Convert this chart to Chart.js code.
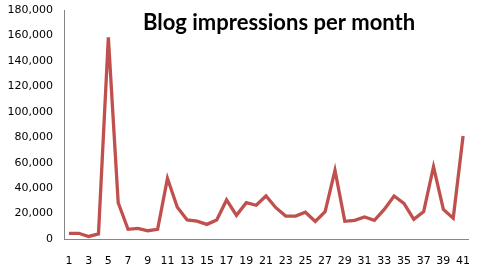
<!DOCTYPE html>
<html><head><meta charset="utf-8">
<script src="https://cdn.jsdelivr.net/npm/chart.js@4"></script>
<style>html,body{margin:0;padding:0;background:#fff}#wrap{width:479px;height:278px}</style>
</head><body><div id="wrap"><canvas id="c" width="479" height="278"></canvas></div>
<script>
const months = Array.from({length:41},(_,i)=>String(i+1));
const impressions = [4500,4500,2000,4000,158500,28500,7600,8400,6500,7600,47700,25000,15000,14000,11500,15000,30700,18600,28500,26500,33800,24600,18000,18000,21000,13800,21500,54000,13900,14700,17300,14700,23300,33800,28000,15500,21500,56800,23300,16300,81000];
const yTicks = [0,20000,40000,60000,80000,100000,120000,140000,160000,180000];
const titleText = 'Blog impressions per month';

const titlePlugin = {
  id:'inTitle',
  afterDraw(chart){
    const ctx = chart.ctx;
    ctx.save();
    ctx.font = 'bold 22px Lato, "Open Sans", sans-serif';
    ctx.fillStyle = '#000';
    ctx.textBaseline = 'middle';
    ctx.textAlign = 'left';
    ctx.fillText(titleText, 143, 23);
    ctx.restore();
  }
};

new Chart(document.getElementById('c'), {
  type:'line',
  data:{labels:months, datasets:[{data:impressions, borderColor:'#C0504D', borderWidth:3.3, pointRadius:0, tension:0, fill:false}]},
  options:{
    responsive:false, animation:false,
    layout:{padding:{top:10,right:11,left:0,bottom:0}},
    plugins:{legend:{display:false}, tooltip:{enabled:false}},
    scales:{
      x:{offset:true,
        grid:{display:false, drawTicks:false},
        border:{display:true,color:'#868686',width:1},
        ticks:{autoSkip:false,maxRotation:0,padding:16,color:'#000',font:{family:'DejaVu Sans',size:11},
          callback:(v,i)=> (i%2===0? months[i] : '')},
        afterFit(s){s.height=39; s.paddingRight=0; s.paddingLeft=0;}
      },
      y:{min:0,max:180000,
        grid:{display:false, drawTicks:false},
        border:{display:true,color:'#868686',width:1},
        afterBuildTicks(s){s.ticks = yTicks.map(v=>({value:v}));},
        ticks:{padding:11,color:'#000',font:{family:'DejaVu Sans',size:11},
          callback:v=>v.toLocaleString('en-US')},
        afterFit(s){s.width=64; s.paddingTop=0; s.paddingBottom=0;}
      }
    }
  },
  plugins:[titlePlugin]
});
</script></body></html>
